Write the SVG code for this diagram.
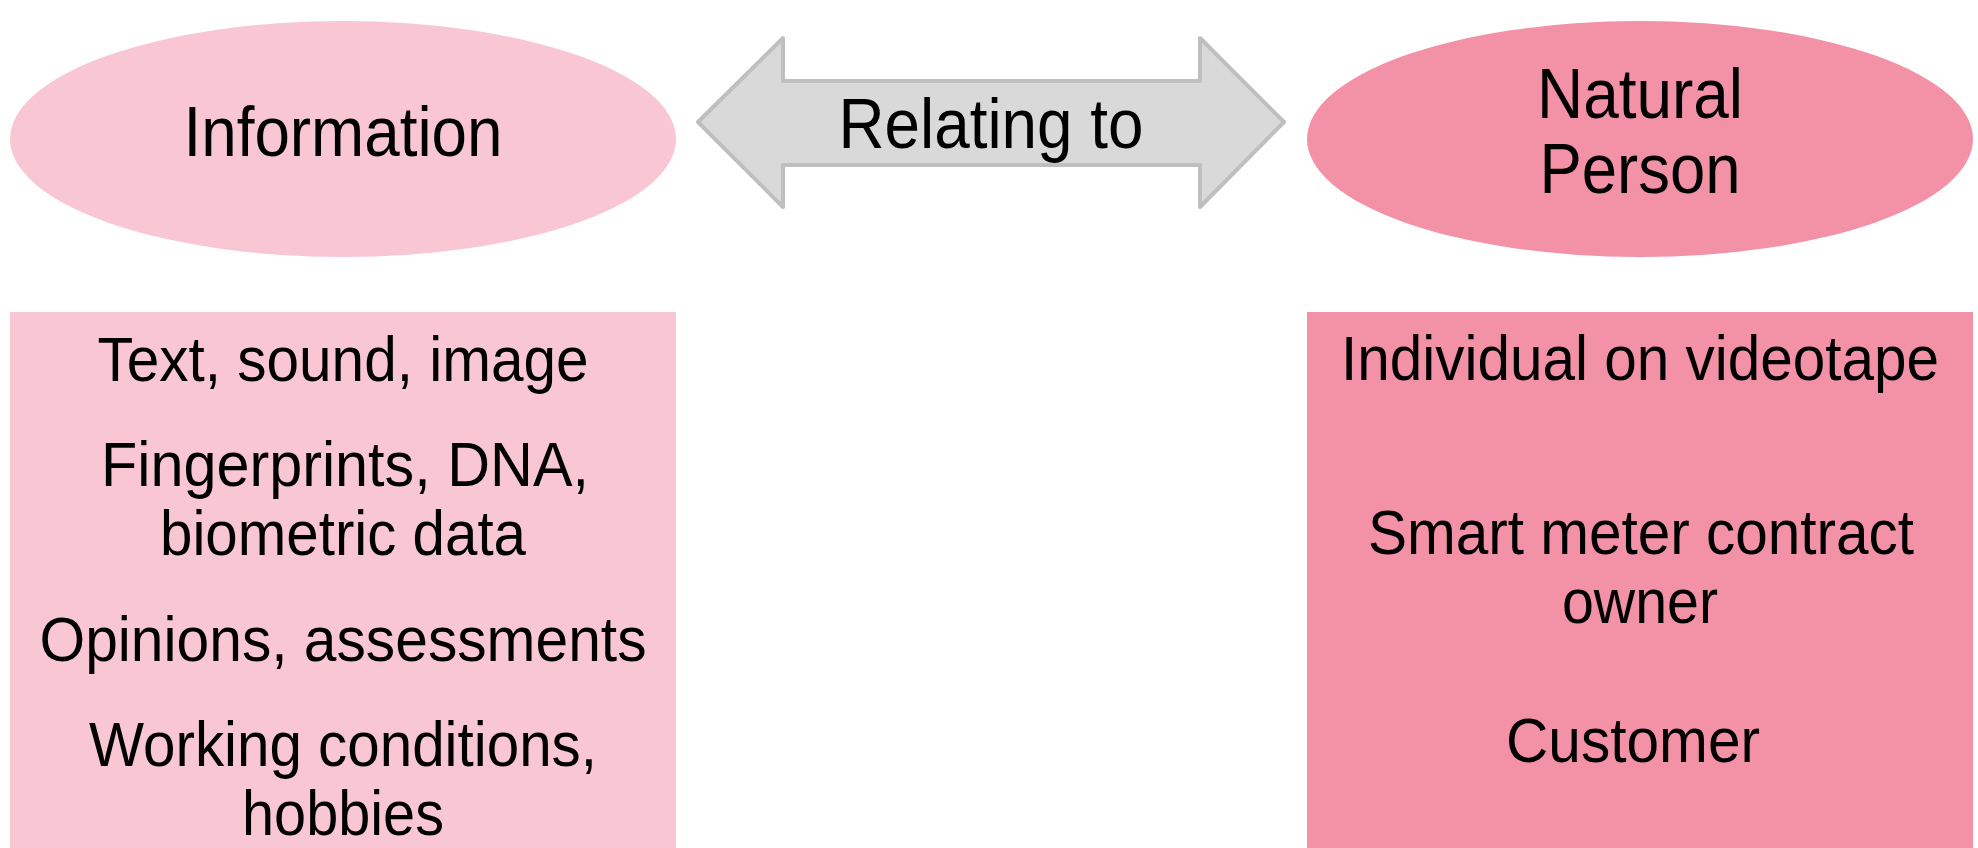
<svg xmlns="http://www.w3.org/2000/svg" width="1978" height="848" viewBox="0 0 1978 848">
<style>
.t{font-family:"Liberation Sans",Arial,sans-serif;fill:#000;text-anchor:middle}
.h{font-size:70px}
.b{font-size:63px}
.light{fill:#F9C7D3}
.dark{fill:#F391A6}
</style>
<rect width="1978" height="848" fill="#fff"/>
<g id="connectors">
<path d="M698,122 L783,38 L783,81 L1200,81 L1200,38 L1284,122 L1200,207 L1200,165 L783,165 L783,207 Z" fill="#D9D9D9" stroke="#BFBFBF" stroke-width="4" stroke-linejoin="round"/>
<text class="t h" x="991" y="148" textLength="305" lengthAdjust="spacingAndGlyphs">Relating to</text>
</g>
<g id="information">
<ellipse class="light" cx="343" cy="139" rx="333" ry="118"/>
<text class="t h" x="343" y="156" textLength="319" lengthAdjust="spacingAndGlyphs">Information</text>
</g>
<g id="natural-person">
<ellipse class="dark" cx="1640" cy="139" rx="333" ry="118"/>
<text class="t h" x="1640" y="118" textLength="206" lengthAdjust="spacingAndGlyphs">Natural</text>
<text class="t h" x="1640" y="193" textLength="201" lengthAdjust="spacingAndGlyphs">Person</text>
</g>
<g id="information-examples">
<rect class="light" x="10" y="312" width="666" height="536"/>
<text class="t b" x="343" y="381" textLength="491" lengthAdjust="spacingAndGlyphs">Text, sound, image</text>
<text class="t b" x="345" y="486" textLength="488" lengthAdjust="spacingAndGlyphs">Fingerprints, DNA,</text>
<text class="t b" x="343" y="555" textLength="366" lengthAdjust="spacingAndGlyphs">biometric data</text>
<text class="t b" x="343" y="661" textLength="607" lengthAdjust="spacingAndGlyphs">Opinions, assessments</text>
<text class="t b" x="343" y="766" textLength="508" lengthAdjust="spacingAndGlyphs">Working conditions,</text>
<text class="t b" x="343" y="835" textLength="202" lengthAdjust="spacingAndGlyphs">hobbies</text>
</g>
<g id="person-examples">
<rect class="dark" x="1307" y="312" width="666" height="536"/>
<text class="t b" x="1640" y="380" textLength="598" lengthAdjust="spacingAndGlyphs">Individual on videotape</text>
<text class="t b" x="1641" y="554" textLength="546" lengthAdjust="spacingAndGlyphs">Smart meter contract</text>
<text class="t b" x="1640" y="623" textLength="156" lengthAdjust="spacingAndGlyphs">owner</text>
<text class="t b" x="1633" y="762" textLength="254" lengthAdjust="spacingAndGlyphs">Customer</text>
</g>
</svg>
